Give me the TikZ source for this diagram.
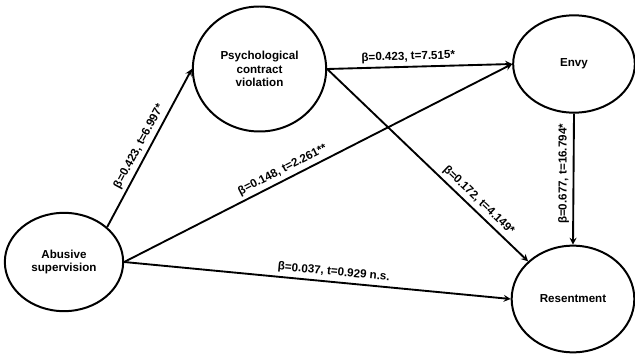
\documentclass[tikz,border=0pt]{standalone}
\usepackage{fontspec}
\setmainfont{Liberation Sans}
\usetikzlibrary{shapes.geometric, arrows, positioning, calc}
\tikzset{
  latente/.style={ellipse, draw=black, line width=1.7pt, fill=white, align=center,
                  font=\fontsize{9.9}{11.6}\selectfont\bfseries, inner sep=1pt},
  arrow/.style={line width=1.6pt,->,>=stealth,color=black},
  coef/.style={font=\fontsize{9.9}{11.6}\selectfont\bfseries, sloped, above, inner sep=3pt}
}
\begin{document}
\begin{tikzpicture}
  \useasboundingbox (0,0) rectangle (19.05,10.59);
  \node (abus) [latente, minimum width=3.55cm, minimum height=2.95cm] at (1.92,2.73) {Abusive\\ supervision};
  \node (pcv) [latente, minimum width=4.0cm, minimum height=3.75cm] at (7.785,8.52) {Psychological\\ contract\\ violation};
  \node (envy) [latente, minimum width=3.65cm, minimum height=2.92cm] at (17.22,8.67) {Envy};
  \node (resent) [latente, minimum width=3.68cm, minimum height=3.2cm] at (17.19,1.62) {Resentment};
  \draw [arrow] (abus.39) -- node[coef, pos=0.48] {β=0.423, t=6.997*} (pcv.west);
  \draw [arrow] (pcv.east) -- node[coef, pos=0.44] {β=0.423, t=7.515*} (envy.west);
  \draw [arrow] (abus.east) -- node[coef, pos=0.42] {β=0.148, t=2.261**} (envy.west);
  \draw [arrow] (pcv.east) -- node[coef, pos=0.72] {β=0.172, t=4.149*} (resent.140);
  \draw [arrow] (envy.south) -- node[font=\fontsize{9.9}{11.6}\selectfont\bfseries, rotate=90, above, inner sep=3pt, pos=0.46] {β=0.677, t=16.794*} (resent.north);
  \draw [arrow] (abus.east) -- node[coef, pos=0.54] {β=0.037, t=0.929 n.s.} (resent.west);
\end{tikzpicture}
\end{document}
